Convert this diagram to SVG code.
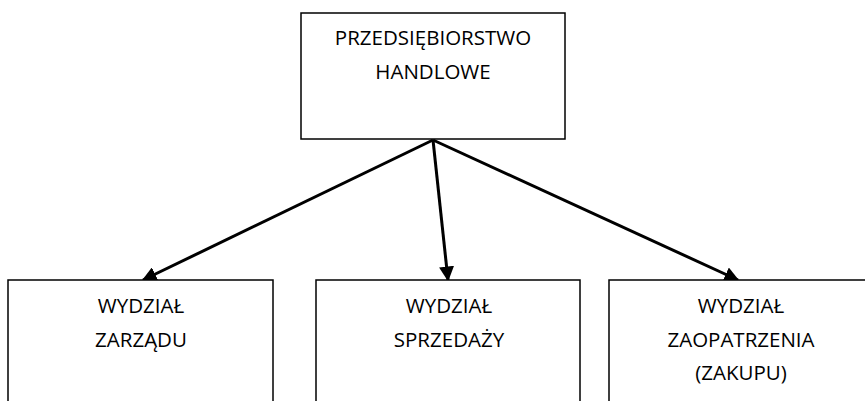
<svg xmlns="http://www.w3.org/2000/svg" width="865" height="401" viewBox="0 0 865 401">
  <style>
    .box { fill: #ffffff; stroke: #000000; stroke-width: 1.5; }
    .lbl { font-family: "Open Sans", "Liberation Sans", sans-serif; font-size: 20.5px; fill: #000000; text-anchor: middle; }
    .arrow { stroke: #000000; stroke-width: 3; fill: none; marker-end: url(#head); }
  </style>
  <defs>
    <marker id="head" viewBox="0 0 10 10" refX="9" refY="5" markerWidth="5" markerHeight="5" orient="auto" markerUnits="strokeWidth">
      <path d="M0,0 L10,5 L0,10 z" fill="#000000"/>
    </marker>
  </defs>
  <rect width="865" height="401" fill="#ffffff"/>

  <g id="connectors">
    <line class="arrow" x1="433" y1="140" x2="143" y2="280"/>
    <line class="arrow" x1="433" y1="140" x2="448" y2="280"/>
    <line class="arrow" x1="433" y1="140" x2="738" y2="280"/>
  </g>

  <g id="node-top">
    <rect class="box" x="301" y="13" width="264" height="126"/>
    <text class="lbl" x="433" y="45">PRZEDSIĘBIORSTWO</text>
    <text class="lbl" x="433" y="79">HANDLOWE</text>
  </g>

  <g id="node-zarzad">
    <rect class="box" x="8" y="280" width="265" height="140"/>
    <text class="lbl" x="141" y="313">WYDZIAŁ</text>
    <text class="lbl" x="141" y="347">ZARZĄDU</text>
  </g>

  <g id="node-sprzedaz">
    <rect class="box" x="316" y="280" width="264" height="140"/>
    <text class="lbl" x="449" y="313">WYDZIAŁ</text>
    <text class="lbl" x="449" y="347">SPRZEDAŻY</text>
  </g>

  <g id="node-zaopatrzenie">
    <rect class="box" x="609" y="280" width="264" height="140"/>
    <text class="lbl" x="741" y="313">WYDZIAŁ</text>
    <text class="lbl" x="741" y="347">ZAOPATRZENIA</text>
    <text class="lbl" x="741" y="380">(ZAKUPU)</text>
  </g>
</svg>
